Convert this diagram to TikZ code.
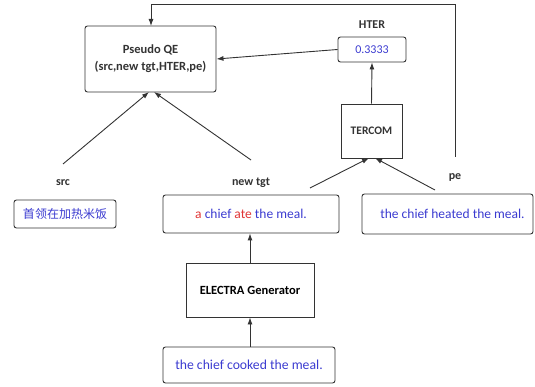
\documentclass[tikz,border=0pt]{standalone}
\usepackage{fontspec}
\setmainfont{Carlito}
\newfontfamily\cjk{Noto Sans CJK SC}
\usetikzlibrary{arrows.meta}
\definecolor{txtblue}{HTML}{3B3BD0}
\definecolor{txtred}{HTML}{E03535}
\definecolor{edge}{HTML}{333333}
\begin{document}
\begin{tikzpicture}[x=1pt,y=-1pt,
  box/.style={draw=edge,line width=0.9pt,rounded corners=2.5pt,inner sep=0pt,align=center},
  sqbox/.style={draw=edge,line width=0.9pt,inner sep=0pt,align=center},
  lbl/.style={font=\bfseries\fontsize{12}{14}\selectfont,text=edge},
  conn/.style={draw=edge,line width=0.9pt,-{Latex[length=7pt,width=5pt]}}]
\useasboundingbox (0,0) rectangle (535,387);
% boxes
\node[box,minimum width=131pt,minimum height=66pt,font=\bfseries\fontsize{12.5}{17}\selectfont,text=edge] (qe) at (150.5,59) {Pseudo QE\\(src,new tgt,HTER,pe)};
\node[box,minimum width=68pt,minimum height=25pt,text=txtblue,font=\fontsize{12}{14}\selectfont] (hterbox) at (372,49.5) {0.3333};
\node[sqbox,minimum width=61pt,minimum height=54pt,font=\bfseries\fontsize{11.5}{13}\selectfont,text=edge] (tercom) at (371.5,131) {TERCOM};
\node[box,minimum width=102pt,minimum height=28pt,text=txtblue,font=\cjk\fontsize{12}{14}\selectfont] (srcbox) at (65,214) {首领在加热米饭};
\node[box,minimum width=176pt,minimum height=38pt,font=\fontsize{13.5}{15}\selectfont] (tgtbox) at (251,214) {\textcolor{txtred}{a} \textcolor{txtblue}{chief} \textcolor{txtred}{ate} \textcolor{txtblue}{the meal.}};
\node[box,minimum width=171pt,minimum height=40pt,text=txtblue,font=\fontsize{13.5}{15}\selectfont] (pebox) at (447.5,214) {\hspace*{10pt}the chief heated the meal.};
\node[sqbox,minimum width=128pt,minimum height=54pt,font=\bfseries\fontsize{12.5}{14}\selectfont,text=black] (electra) at (250,290) {ELECTRA Generator};
\node[box,minimum width=172pt,minimum height=36pt,text=txtblue,font=\fontsize{13.7}{15}\selectfont] (orig) at (249,365) {the chief cooked the meal.};
% labels
\node[lbl] (hterlbl) at (372,25) {HTER};
\node[lbl] (srclbl) at (63,183) {src};
\node[lbl] (tgtlbl) at (251,183) {new tgt};
\node[lbl] (pelbl) at (455,177) {pe};
% free ends
\coordinate (srcs) at (63,164);
\coordinate (tgts) at (251,160);
\coordinate (tgtt) at (310,188);
\coordinate (pet) at (435,190);
\coordinate (pes) at (455,157);
\coordinate (qin) at (151,26);
% connectors
\draw[conn] (srcs) -- (149,92);
\draw[conn] (tgts) -- (154,92);
\draw[conn] (tgtt) -- (369,158);
\draw[conn] (pet) -- (375,158);
\draw[conn] (tercom.north) -- (hterbox.south);
\draw[conn] (hterbox.west) -- (qe.east);
\draw[conn] (pes) -- (455,4) -- (151,4) -- (qin);
\draw[conn] (electra.north) -- (tgtbox.south -| electra.north);
\draw[conn] (orig.north -| electra.south) -- (electra.south);
\end{tikzpicture}
\end{document}
